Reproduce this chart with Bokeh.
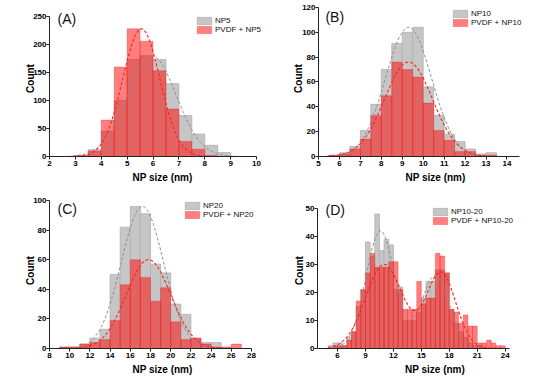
import numpy as np
from bokeh.plotting import figure
from bokeh.models import Legend, LegendItem, Label, FixedTicker, Range1d
from bokeh.layouts import row, column
from bokeh.embed import file_html
from bokeh.resources import INLINE

FONT = "Liberation Sans"

# ---------------- data ----------------
# Panel A (NP5), bin width 0.5
a_bins = [3.0, 3.5, 4.0, 4.5, 5.0, 5.5, 6.0, 6.5, 7.0, 7.5, 8.0, 8.5]
a_np = [1, 12, 45, 100, 173, 180, 173, 130, 73, 40, 20, 7]
a_pvdf = [2, 10, 65, 160, 228, 206, 153, 85, 27, 13, 2, 0]
a_fit_np = [180, 5.95, 0.95]      # amplitude, centre, sigma
a_fit_pvdf = [228, 5.55, 0.72]
a_xticks = [2, 3, 4, 5, 6, 7, 8, 9, 10]
a_yticks = [0, 50, 100, 150, 200, 250]

# Panel B (NP10), bin width 0.5
b_bins = [5.5, 6.0, 6.5, 7.0, 7.5, 8.0, 8.5, 9.0, 9.5, 10.0, 10.5, 11.0, 11.5, 12.0, 12.5, 13.0]
b_np = [1, 3, 8, 21, 42, 70, 91, 100, 104, 56, 33, 18, 12, 6, 2, 3]
b_pvdf = [1, 2, 6, 14, 33, 49, 76, 70, 64, 43, 21, 13, 4, 4, 1, 1]
b_fit_np = [104, 9.3, 1.1]
b_fit_pvdf = [76, 9.3, 1.15]
b_xticks = [5, 6, 7, 8, 9, 10, 11, 12, 13, 14]
b_yticks = [0, 20, 40, 60, 80, 100, 120]

# Panel C (NP20), bin width 1
c_bins = [9, 10, 11, 12, 13, 14, 15, 16, 17, 18, 19, 20, 21, 22, 23, 24, 25, 26]
c_np = [1, 1, 3, 7, 13, 50, 82, 96, 91, 57, 51, 30, 23, 7, 4, 4, 0, 0]
c_pvdf = [1, 1, 3, 4, 6, 19, 43, 60, 48, 32, 41, 18, 6, 7, 3, 1, 1, 3]
c_fit_np = [96, 17.2, 2.1]
c_fit_pvdf = [60, 17.8, 2.2]
c_xticks = [8, 10, 12, 14, 16, 18, 20, 22, 24, 26, 28]
c_yticks = [0, 20, 40, 60, 80, 100]

# Panel D (NP10-20), bin width 0.5
d_bins = [5.0, 5.5, 6.0, 6.5, 7.0, 7.5, 8.0, 8.5, 9.0, 9.5, 10.0, 10.5, 11.0, 11.5,
          12.0, 12.5, 13.0, 13.5, 14.0, 14.5, 15.0, 15.5, 16.0, 16.5, 17.0, 17.5,
          18.0, 18.5, 19.0, 19.5, 20.0, 20.5, 21.0, 21.5, 22.0, 22.5, 23.0, 23.5]
d_np = [1, 2, 2, 1, 4, 6, 15, 21, 38, 33, 48, 35, 39, 37, 21, 22, 10, 10, 10, 13,
        18, 24, 24, 28, 28, 27, 14, 9, 6, 4, 2, 1, 1, 0, 0, 0, 0, 0]
d_pvdf = [0, 1, 1, 1, 3, 6, 17, 21, 27, 34, 29, 29, 29, 31, 31, 21, 14, 14, 14, 24,
          16, 18, 18, 34, 33, 27, 14, 13, 9, 12, 8, 8, 2, 2, 3, 2, 1, 1]
d_fit_np = [42, 10.6, 1.55, 26, 16.5, 1.5]     # two peaks: amp, centre, sigma
d_fit_pvdf = [30, 11.0, 2.0, 27, 17.1, 1.6]
d_xticks = [6, 9, 12, 15, 18, 21, 24]
d_yticks = [0, 10, 20, 30, 40, 50]

GRAY = "#c6c6c6"
RED = "#ff0000"


def gauss(x, params):
    y = np.zeros_like(x)
    for i in range(0, len(params), 3):
        amp, mu, sig = params[i:i + 3]
        y = y + amp * np.exp(-(x - mu) ** 2 / (2 * sig ** 2))
    return y


def panel(bins, width, np_counts, pvdf_counts, fit_np, fit_pvdf, xr, yr, xticks, yticks,
          frame, tag, tag_pos, labels, leg_pos, curve_np, curve_pvdf, ylab_standoff):
    left, top, fw, fh = frame
    W, H = 277, 192
    # let the drawing area reach the figure's top and right edges (so the
    # panel letter and legend are not clipped) while the axes keep their bounds
    right_pad = 2
    ext_w = W - left - right_pad
    ext_h = fh + top
    x_end = xr[0] + (xr[1] - xr[0]) * ext_w / fw
    y_end = yr[0] + (yr[1] - yr[0]) * ext_h / fh
    p = figure(width=W, height=H, x_range=Range1d(xr[0], x_end), y_range=Range1d(yr[0], y_end),
               output_backend="svg", toolbar_location=None,
               min_border_left=left, min_border_top=0,
               min_border_right=right_pad, min_border_bottom=H - top - fh)
    p.outline_line_color = None
    p.xgrid.grid_line_color = None
    p.ygrid.grid_line_color = None
    p.background_fill_color = "white"
    p.border_fill_color = "white"

    lefts = np.array(bins, dtype=float)
    rights = lefts + width
    rg = p.quad(left=lefts, right=rights, bottom=0, top=np_counts,
                fill_color=GRAY, line_color="#b0b0b0", line_width=0.8)
    rr = p.quad(left=lefts, right=rights, bottom=0, top=pvdf_counts,
                fill_color=RED, fill_alpha=0.5, line_color=RED, line_alpha=0.35,
                line_width=0.8)

    xs = np.linspace(curve_np[0], curve_np[1], 300)
    p.line(xs, gauss(xs, fit_np), line_color="#8a8a8a", line_dash="3 2", line_width=1)
    xs2 = np.linspace(curve_pvdf[0], curve_pvdf[1], 300)
    p.line(xs2, gauss(xs2, fit_pvdf), line_color="#ff2020", line_dash="3 2", line_width=1.1)

    for ax in (p.xaxis[0], p.yaxis[0]):
        ax.axis_line_color = "#222222"
        ax.axis_line_width = 1
        ax.major_tick_line_color = "#222222"
        ax.major_tick_out = 3
        ax.major_tick_in = 0
        ax.minor_tick_line_color = None
        ax.major_label_text_font = FONT
        ax.major_label_text_font_size = "8px"
        ax.major_label_text_font_style = "bold"
        ax.major_label_text_color = "black"
        ax.major_label_standoff = 1
        ax.axis_label_text_font = FONT
        ax.axis_label_text_font_size = "10px"
        ax.axis_label_text_font_style = "bold"
        ax.axis_label_text_color = "black"
    p.xaxis[0].bounds = (xr[0], xr[1])
    p.yaxis[0].bounds = (yr[0], yr[1])
    p.xaxis[0].ticker = FixedTicker(ticks=xticks)
    p.yaxis[0].ticker = FixedTicker(ticks=yticks)
    p.xaxis[0].axis_label = "NP size (nm)"
    p.yaxis[0].axis_label = "Count"
    p.xaxis[0].axis_label_standoff = 3
    p.yaxis[0].major_label_standoff = 0
    p.yaxis[0].axis_label_standoff = ylab_standoff

    p.add_layout(Label(x=tag_pos[0], y=tag_pos[1], text=tag, text_font=FONT,
                       text_font_size="14px", text_baseline="middle", text_align="left",
                       text_color="#111111"))

    leg = Legend(items=[LegendItem(label=labels[0], renderers=[rg]),
                        LegendItem(label=labels[1], renderers=[rr])],
                 location=leg_pos, orientation="vertical", glyph_width=18, glyph_height=9,
                 label_height=9, label_standoff=2, spacing=0, padding=0, margin=0,
                 border_line_color=None, background_fill_alpha=0,
                 label_text_font=FONT, label_text_font_size="8px",
                 label_text_color="#111111")
    p.add_layout(leg)
    return p


pA = panel(a_bins, 0.5, a_np, a_pvdf, a_fit_np, a_fit_pvdf, (2, 10), (0, 250),
           a_xticks, a_yticks, (49, 16, 207, 140), "(A)", (2.31, 246),
           ("NP5", "PVDF + NP5"), (146, 122), (2.9, 9.2), (2.7, 8.4), -6)
pB = panel(b_bins, 0.5, b_np, b_pvdf, b_fit_np, b_fit_pvdf, (5, 14.6), (0, 120),
           b_xticks, b_yticks, (41, 7, 201, 150), "(B)", (5.33, 112),
           ("NP10", "PVDF + NP10"), (133, 129), (5.5, 13.5), (5.4, 13.6), -5)
pC = panel(c_bins, 1, c_np, c_pvdf, c_fit_np, c_fit_pvdf, (8, 28), (0, 100),
           c_xticks, c_yticks, (49, 8, 202, 148), "(C)", (8.79, 94),
           ("NP20", "PVDF + NP20"), (134, 129), (10, 24.5), (9, 26), -6)
pD = panel(d_bins, 0.5, d_np, d_pvdf, d_fit_np, d_fit_pvdf, (3.85, 24.46), (0, 50),
           d_xticks, d_yticks, (40, 16, 192, 140), "(D)", (4.71, 49.5),
           ("NP10-20", "PVDF + NP10-20"), (114, 123), (5.5, 21.5), (5.0, 23.5), -2)

layout = column(row(pA, pB), row(pC, pD))
open("out.html", "w").write(file_html(layout, INLINE))
